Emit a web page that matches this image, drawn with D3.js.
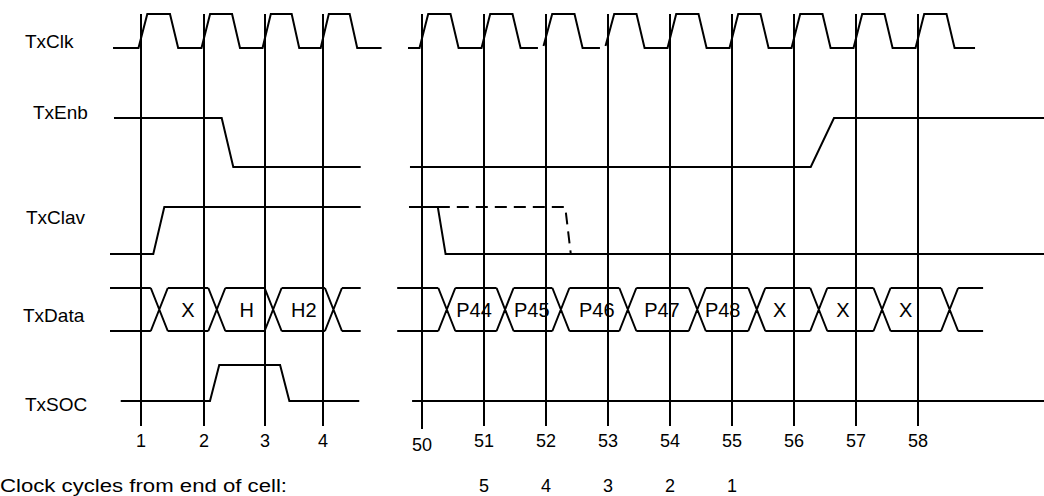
<!DOCTYPE html>
<html>
<head>
  <meta charset="utf-8">
  <script src="https://cdn.jsdelivr.net/npm/d3@7"></script>
  <style>
    body { margin: 0; background: #fff; }
    text { font-family: "Liberation Sans", Arial, Helvetica, sans-serif; font-size: 18px; fill: #000; }
  </style>
</head>
<body>
<script>
  "use strict";

  // ---- data (times are in clock cycles) ----
  var signals = ["TxClk", "TxEnb", "TxClav", "TxData", "TxSOC"];
  var leftCycles = [1, 2, 3, 4];
  var rightCycles = [50, 51, 52, 53, 54, 55, 56, 57, 58];
  var endCountCycles = [51, 52, 53, 54, 55];
  var endCountLabels = ["5", "4", "3", "2", "1"];

  var clkLeftSpan = [0.556, 5.01];
  var clkRightSpan = [49.774, 58.92];
  var clkGaps = [52, 53];

  var txEnbLeft = [[0.571, 1], [2.29, 1], [2.48, 0], [4.65, 0]];
  var txEnbRight = [[49.806, 0], [56.27, 0], [56.645, 1], [60.05, 1]];
  var txClavLeft = [[0.508, 0], [1.195, 0], [1.37, 1], [4.65, 1]];
  var txClavRight = [[49.79, 1], [50.255, 1], [50.38, 0], [60.05, 0]];
  var txClavDashed = [[50.255, 1], [52.31, 1], [52.40, 0]];
  var txSocLeft = [[0.678, 0], [2.098, 0], [2.25, 1], [3.26, 1], [3.42, 0], [4.625, 0]];
  var txSocRight = [[49.84, 0], [60.05, 0]];

  var txDataLeftSpan = [0.508, 4.65];
  var txDataLeftEdges = [1.29, 2.21, 3.14, 4.18];
  var txDataLeftLabels = ["X", "H", "H2"];
  var txDataLeftAt = [1.746, 2.70, 3.67];
  var txDataRightSpan = [49.60, 59.05];
  var txDataRightEdges = [50.40, 51.34, 52.24, 53.32, 54.44, 55.40, 56.40, 57.42, 58.51];
  var txDataRightLabels = ["P44", "P45", "P46", "P47", "P48", "X", "X", "X"];
  var txDataRightAt = [50.84, 51.77, 52.82, 53.87, 54.85, 55.77, 56.79, 57.80];

  // ---- layout ----
  var width = 1044, height = 496;
  var xL = d3.scaleLinear().domain([1, 2, 3, 4]).range([141, 204, 265, 323]);
  var xR = d3.scaleLinear().domain([50, 58]).range([422, 918]);

  // [high, low] rail for each signal, label position
  var rails = d3.scaleOrdinal().domain(signals)
    .range([[14, 48], [118, 167], [207, 254], [288, 331], [365, 401]]);
  var labelX = d3.scaleOrdinal().domain(signals).range([25, 33, 26, 23, 25]);
  var labelY = d3.scaleOrdinal().domain(signals).range([48, 119, 224, 322, 411]);

  var svg = d3.select("body").append("svg")
    .attr("width", width)
    .attr("height", height);

  var g = svg.append("g")
    .attr("fill", "none")
    .attr("stroke", "#000")
    .attr("stroke-width", 2);

  // cycle grid lines
  g.selectAll(".gl").data(leftCycles).enter().append("line")
    .attr("x1", xL).attr("x2", xL).attr("y1", 14).attr("y2", 426);
  g.selectAll(".gr").data(rightCycles).enter().append("line")
    .attr("x1", xR).attr("x2", xR).attr("y1", 14)
    .attr("y2", function(d) { return d === 50 ? 429 : 426; });

  function level(sig, v) { return rails(sig)[v ? 0 : 1]; }

  function wave(sig, pts, x) {
    return d3.line()
      .x(function(d) { return x(d[0]); })
      .y(function(d) { return level(sig, d[1]); })(pts);
  }

  // clock: rise around the cycle line, fall a bit before half cycle
  function clockPath(span, cycles, x, gaps) {
    var p = d3.path();
    p.moveTo(x(span[0]), level("TxClk", 0));
    cycles.forEach(function(c) {
      if (gaps.indexOf(c) >= 0) {
        p.lineTo(x(c - 0.13), level("TxClk", 0));
        p.moveTo(x(c - 0.04), level("TxClk", 0) - 2);
      } else {
        p.lineTo(x(c - 0.04), level("TxClk", 0));
      }
      p.lineTo(x(c + 0.10), level("TxClk", 1));
      p.lineTo(x(c + 0.46), level("TxClk", 1));
      p.lineTo(x(c + 0.59), level("TxClk", 0));
    });
    p.lineTo(x(span[1]), level("TxClk", 0));
    return p.toString();
  }

  g.append("path").attr("d", clockPath(clkLeftSpan, leftCycles, xL, []));
  g.append("path").attr("d", clockPath(clkRightSpan, rightCycles, xR, clkGaps));

  g.append("path").attr("d", wave("TxEnb", txEnbLeft, xL));
  g.append("path").attr("d", wave("TxEnb", txEnbRight, xR));
  g.append("path").attr("d", wave("TxClav", txClavLeft, xL));
  g.append("path").attr("d", wave("TxClav", txClavRight, xR));
  g.append("path").attr("d", wave("TxClav", txClavDashed, xR))
    .attr("stroke-dasharray", "12,7");
  g.append("path").attr("d", wave("TxSOC", txSocLeft, xL));
  g.append("path").attr("d", wave("TxSOC", txSocRight, xR));

  // bus signal with crossing transitions
  var hw = 8.5;
  function busPath(span, edges, x) {
    var top = level("TxData", 1), bot = level("TxData", 0);
    var p = d3.path();
    var bounds = [x(span[0]) - hw].concat(edges.map(x), [x(span[1]) + hw]);
    for (var i = 0; i < bounds.length - 1; i++) {
      var a = bounds[i] + hw, b = bounds[i + 1] - hw;
      p.moveTo(a, top); p.lineTo(b, top);
      p.moveTo(a, bot); p.lineTo(b, bot);
    }
    edges.forEach(function(e) {
      var c = x(e);
      p.moveTo(c - hw, top); p.lineTo(c + hw, bot);
      p.moveTo(c - hw, bot); p.lineTo(c + hw, top);
    });
    return p.toString();
  }

  g.append("path").attr("d", busPath(txDataLeftSpan, txDataLeftEdges, xL));
  g.append("path").attr("d", busPath(txDataRightSpan, txDataRightEdges, xR));

  function busLabels(at, labels, x) {
    var midY = (level("TxData", 1) + level("TxData", 0)) / 2 + 7;
    svg.append("g").selectAll("text").data(labels).enter().append("text")
      .attr("x", function(d, i) { return x(at[i]); })
      .attr("y", midY)
      .attr("text-anchor", "middle")
      .style("font-size", "20px")
      .text(function(d) { return d; });
  }
  busLabels(txDataLeftAt, txDataLeftLabels, xL);
  busLabels(txDataRightAt, txDataRightLabels, xR);

  // signal names
  svg.append("g").selectAll("text").data(signals).enter().append("text")
    .attr("x", labelX)
    .attr("y", labelY)
    .style("font-size", "19px")
    .text(function(d) { return d; });

  // cycle numbers
  var ticks = svg.append("g").attr("text-anchor", "middle");
  ticks.selectAll(".tl").data(leftCycles).enter().append("text")
    .attr("x", xL).attr("y", 447).text(function(d) { return d; });
  ticks.selectAll(".tr").data(rightCycles).enter().append("text")
    .attr("x", xR)
    .attr("y", function(d) { return d === 50 ? 451 : 447; })
    .text(function(d) { return d; });

  svg.append("text")
    .attr("x", 0).attr("y", 492)
    .attr("textLength", 287)
    .attr("lengthAdjust", "spacingAndGlyphs")
    .text("Clock cycles from end of cell:");

  ticks.selectAll(".ec").data(endCountCycles).enter().append("text")
    .attr("x", xR).attr("y", 492)
    .text(function(d, i) { return endCountLabels[i]; });
</script>
</body>
</html>
